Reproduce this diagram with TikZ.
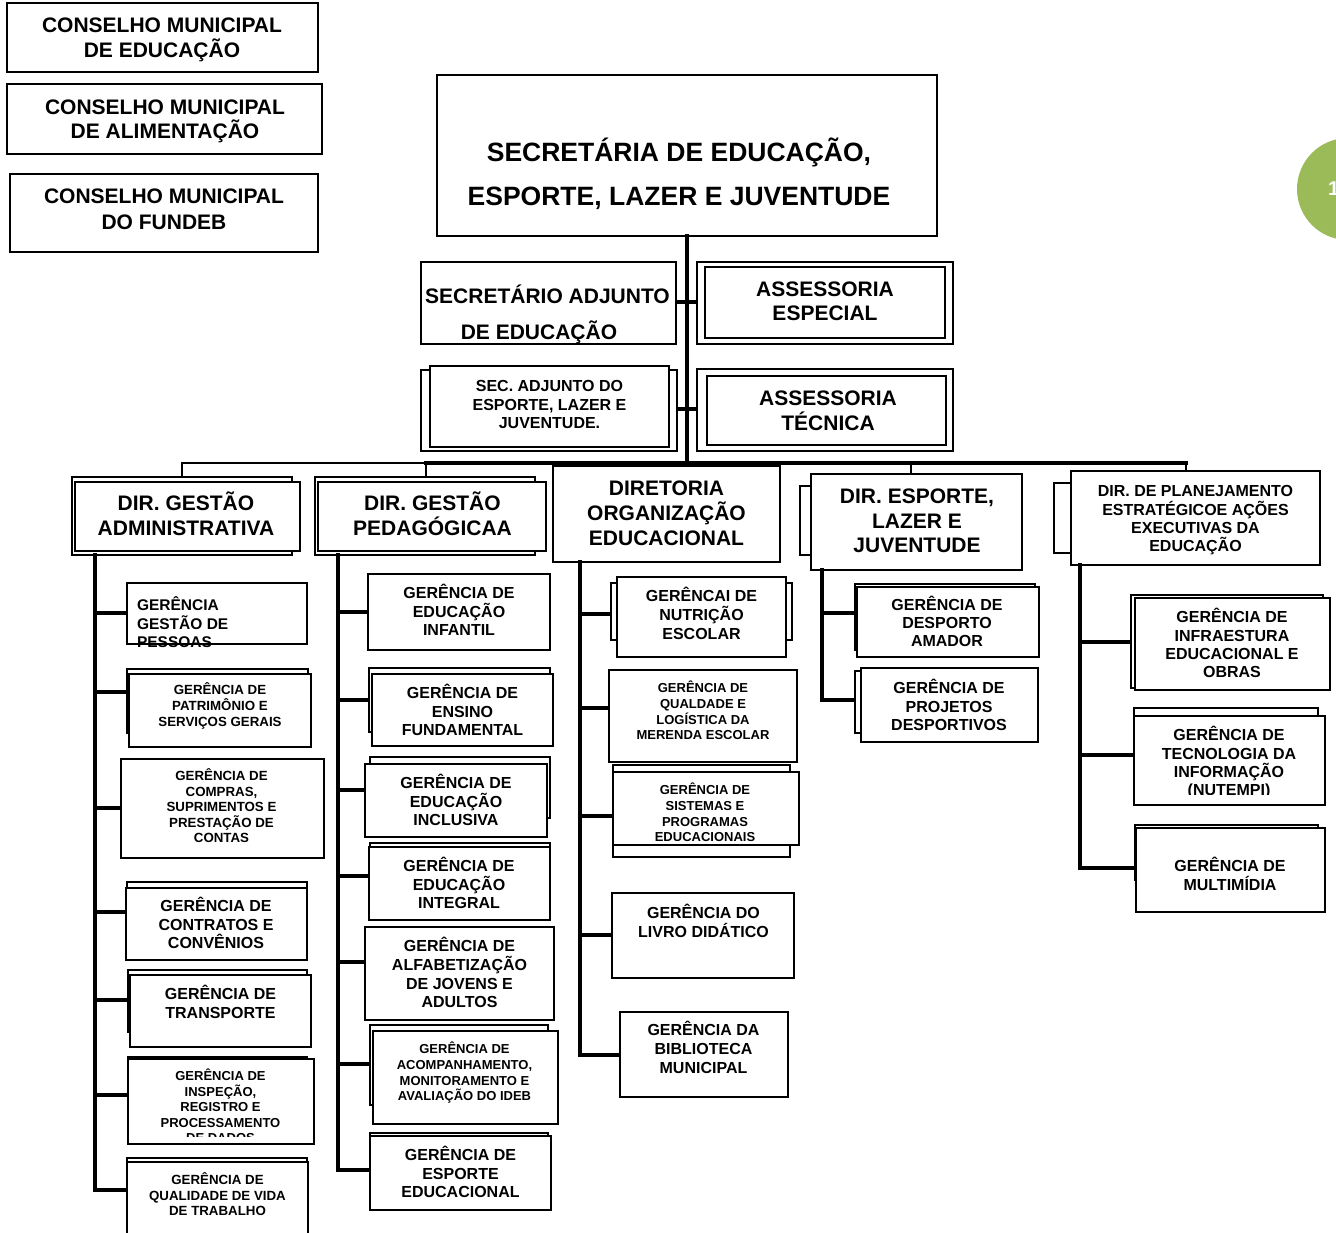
\documentclass[tikz,border=0pt]{standalone}
\usepackage{fontspec}
\setmainfont{Liberation Sans}
\newcommand\fsz[2]{\fontsize{#1}{#2}\selectfont\bfseries}
\newcommand\rbox[6][]{\pgfmathsetmacro\bw{#5-#3}\pgfmathsetmacro\bh{#6-#4}%
  \node[bx,#1,minimum width=\bw pt,minimum height=\bh pt,anchor=north west] (#2) at (#3,#4) {};}
% [opt]{name}{x}{first baseline}{size}{skip}{lines}{text}
\newcommand\tx[8][]{\pgfmathsetmacro\ly{#4+(#7-1)*#6}%
  \node[lbl,font={\fsz{#5}{#6}},#1] (#2) at (#3,\ly) {#8};}
\newcommand\cn[3]{\draw[conn,line cap=butt] (#1 |- 0,#2) -- (#3.west |- 0,#2);}
\begin{document}
\begin{tikzpicture}[x=1pt,y=-1pt,
  bx/.style={draw=black, line width=1.9pt, fill=white, inner sep=0pt, outer sep=0pt},
  thk/.style={line width=2.4pt},
  thn/.style={line width=1.4pt},
  conn/.style={line width=3.3pt, line cap=rect},
  lbl/.style={inner sep=0pt, outer sep=0pt, align=center, anchor=base},
]
\useasboundingbox (0,0) rectangle (1336,1233);
\fill[white] (0,0) rectangle (1336,1233);

% green page marker
\fill[fill={rgb,255:red,155;green,187;blue,89}] (1348,189) circle (51);
\node[anchor=base west, inner sep=0pt, text=white, font={\fsz{20}{24}}] (pg) at (1328,196) {1};

% councils
\rbox{c1}{7}{3}{318}{72}
\rbox{c2}{7}{84}{322}{154}
\rbox{c3}{10}{174}{318}{252}
\tx{tc1}{162}{32.5}{21}{25}{2}{CONSELHO MUNICIPAL\\DE EDUCAÇÃO}
\tx{tc2}{165}{114.5}{21}{24}{2}{CONSELHO MUNICIPAL\\DE ALIMENTAÇÃO}
\tx{tc3}{164}{203.5}{21}{26}{2}{CONSELHO MUNICIPAL\\DO FUNDEB}

% main
\rbox[thk]{main}{437}{75}{937}{236}
\tx{tmain}{679}{161.5}{26.5}{44}{2}{SECRETÁRIA DE EDUCAÇÃO,\\ESPORTE, LAZER E JUVENTUDE}

% trunk + side connectors
\coordinate (hub) at (687,463);
\draw[conn] (main.south) -- (hub);

\rbox{sa}{421}{262}{676}{344}
\rbox[thn]{aeO}{697}{262}{953}{344}
\rbox[thn]{aeI}{705}{267}{945}{338}
\rbox[thn]{seO}{421}{370}{677}{451}
\rbox[thn]{seI}{430}{366}{669}{447}
\rbox[thn]{atO}{697}{369}{953}{451}
\rbox[thn]{atI}{707}{376}{946}{445}
\draw[conn,line cap=butt] (sa.east |- 0,302) -- (aeO.west |- 0,302);
\draw[conn,line cap=butt] (seO.east |- 0,409) -- (atO.west |- 0,409);
\tx{tsa}{547.5}{303.5}{21}{36}{2}{SECRETÁRIO ADJUNTO\\DE EDUCAÇÃO\hspace*{17pt}}
\tx{tae}{825}{296.5}{21}{24}{2}{ASSESSORIA\\ESPECIAL}
\tx{tat}{828}{405.5}{21}{25}{2}{ASSESSORIA\\TÉCNICA}
\tx{tse}{549.5}{391.7}{16}{18.5}{3}{SEC. ADJUNTO DO\\ESPORTE, LAZER E\\JUVENTUDE.}

% directorates
\rbox{dAb}{72}{477}{292}{555}
\rbox{dA}{75}{482}{300}{551}
\rbox{dPb}{315}{477}{535}{555}
\rbox{dP}{318}{482}{546}{551}
\rbox[line width=2.3pt]{dO}{553}{466}{780}{562}
\rbox{dEb}{800}{486}{1012}{555}
\rbox{dE}{811}{474}{1022}{570}
\rbox{dLb}{1054}{483}{1300}{553}
\rbox{dL}{1071}{471}{1320}{565}
\tx{tdA}{186}{510.5}{21}{25}{2}{DIR. GESTÃO\\ADMINISTRATIVA}
\tx{tdP}{432.5}{510.5}{21}{25}{2}{DIR. GESTÃO\\PEDAGÓGICAA}
\tx{tdO}{666.5}{495.5}{21}{25}{3}{DIRETORIA\\ORGANIZAÇÃO\\EDUCACIONAL}
\tx{tdE}{917}{503.5}{21}{24.5}{3}{DIR. ESPORTE,\\LAZER E\\JUVENTUDE}
\tx{tdL}{1195.5}{496.7}{16}{18.3}{4}{DIR. DE PLANEJAMENTO\\ESTRATÉGICOE AÇÕES\\EXECUTIVAS DA\\EDUCAÇÃO}

% bus
\coordinate (busL) at (182,463);
\coordinate (busR) at (1186,463);
\draw[conn,line width=2.4pt] (busL) -- (426,463);
\draw[conn] (426,463) -- (busR);
\draw[conn,line width=2.4pt] (busL) -- (busL |- dAb.north);
\draw[conn,line width=2.4pt] (426,463 |- hub) -- (dPb.north -| 426,0);
\draw[conn,line width=2.4pt] (911,463 |- hub) -- (dE.north -| 911,0);
\draw[conn,line width=2.4pt] (busR) -- (busR |- dL.north);

% column trunks
\coordinate (tA) at (95,555);
\coordinate (tP) at (338,555);
\coordinate (tO) at (580,562);
\coordinate (tE) at (822,570);
\coordinate (tL) at (1080,565);
\draw[conn] (tA) -- (95,1190);
\draw[conn] (tP) -- (338,1170);
\draw[conn] (tO) -- (580,1055);
\draw[conn] (tE) -- (822,700);
\draw[conn] (tL) -- (1080,868);

% column 1
\rbox{a1}{127}{583}{307}{644}
\rbox{a2b}{127}{669}{308}{733}
\rbox{a2}{129}{674}{311}{747}
\rbox{a3}{121}{759}{324}{858}
\rbox{a4b}{127}{882}{307}{950}
\rbox{a4}{126}{888}{307}{960}
\rbox{a5b}{128}{970}{307}{1032}
\rbox{a5}{130}{975}{311}{1047}
\rbox{a6b}{128}{1057}{307}{1133}
\rbox{a6}{128}{1059}{314}{1144}
\rbox{a7b}{127}{1158}{307}{1240}
\rbox{a7}{127}{1162}{308}{1245}
\cn{tA}{613}{a1}
\cn{tA}{692}{a2b}
\cn{tA}{808}{a3}
\cn{tA}{912}{a4}
\cn{tA}{1000}{a5}
\cn{tA}{1095}{a6}
\cn{tA}{1190}{a7}
\begin{scope}
\clip (127,583) rectangle (307,648);
\tx[anchor=base west,align=left]{ta1}{137}{610.7}{15.5}{18.5}{3}{GERÊNCIA\\GESTÃO DE\\PESSOAS}
\end{scope}
\tx{ta2}{220}{694.7}{13.3}{16}{3}{GERÊNCIA DE\\PATRIMÔNIO E\\SERVIÇOS GERAIS}
\tx{ta3}{221.5}{780.7}{13.3}{15.5}{5}{GERÊNCIA DE\\COMPRAS,\\SUPRIMENTOS E\\PRESTAÇÃO DE\\CONTAS}
\tx{ta4}{216}{911.7}{16}{18.5}{3}{GERÊNCIA DE\\CONTRATOS E\\CONVÊNIOS}
\tx{ta5}{220.5}{999.7}{16}{19}{2}{GERÊNCIA DE\\TRANSPORTE}
\begin{scope}
\clip (128,1059) rectangle (314,1136);
\tx{ta6}{220.5}{1080.7}{13}{15.5}{5}{GERÊNCIA DE\\INSPEÇÃO,\\REGISTRO E\\PROCESSAMENTO\\DE DADOS}
\end{scope}
\tx{ta7}{217.5}{1184.7}{13.3}{15.5}{3}{GERÊNCIA DE\\QUALIDADE DE VIDA\\DE TRABALHO}

% column 2
\rbox{p1}{368}{574}{550}{650}
\rbox{p2b}{369}{668}{550}{732}
\rbox{p2}{372}{674}{553}{746}
\rbox{p3b}{370}{757}{550}{818}
\rbox{p3}{365}{764}{547}{837}
\rbox{p4b}{370}{843}{550}{900}
\rbox{p4}{369}{847}{550}{920}
\rbox{p5}{365}{927}{554}{1020}
\rbox{p6b}{370}{1025}{548}{1105}
\rbox{p6}{373}{1031}{558}{1124}
\rbox{p7b}{370}{1133}{548}{1200}
\rbox{p7}{370}{1136}{551}{1210}
\cn{tP}{612}{p1}
\cn{tP}{700}{p2b}
\cn{tP}{790}{p3}
\cn{tP}{876}{p4}
\cn{tP}{962}{p5}
\cn{tP}{1064}{p6b}
\cn{tP}{1170}{p7}
\tx{tp1}{459}{598.7}{16}{18.5}{3}{GERÊNCIA DE\\EDUCAÇÃO\\INFANTIL}
\tx{tp2}{462.5}{698.7}{16}{18.5}{3}{GERÊNCIA DE\\ENSINO\\FUNDAMENTAL}
\tx{tp3}{456}{788.7}{16}{18.5}{3}{GERÊNCIA DE\\EDUCAÇÃO\\INCLUSIVA}
\tx{tp4}{459}{871.7}{16}{18.5}{3}{GERÊNCIA DE\\EDUCAÇÃO\\INTEGRAL}
\tx{tp5}{459.5}{951.7}{16}{18.7}{4}{GERÊNCIA DE\\ALFABETIZAÇÃO\\DE JOVENS E\\ADULTOS}
\tx{tp6}{464.5}{1053.7}{13}{15.7}{4}{GERÊNCIA DE\\ACOMPANHAMENTO,\\MONITORAMENTO E\\AVALIAÇÃO DO IDEB}
\tx{tp7}{460.5}{1160.7}{16}{18.5}{3}{GERÊNCIA DE\\ESPORTE\\EDUCACIONAL}

% column 3
\rbox{o1b}{611}{583}{792}{640}
\rbox{o1}{617}{577}{786}{657}
\rbox{o2}{609}{670}{797}{762}
\rbox{o3b}{613}{765}{790}{857}
\rbox{o3}{613}{772}{799}{845}
\rbox{o4}{612}{893}{794}{978}
\rbox{o5}{620}{1012}{788}{1097}
\cn{tO}{614}{o1b}
\cn{tO}{708}{o2}
\cn{tO}{816}{o3}
\cn{tO}{935}{o4}
\cn{tO}{1055}{o5}
\tx{to1}{701.5}{601.7}{16}{19}{3}{GERÊNCAI DE\\NUTRIÇÃO\\ESCOLAR}
\tx{to2}{703}{692.7}{13}{15.7}{4}{GERÊNCIA DE\\QUALDADE E\\LOGÍSTICA DA\\MERENDA ESCOLAR}
\tx{to3}{705}{794.7}{13}{15.7}{4}{GERÊNCIA DE\\SISTEMAS E\\PROGRAMAS\\EDUCACIONAIS}
\tx{to4}{703.5}{918.7}{16}{19}{2}{GERÊNCIA DO\\LIVRO DIDÁTICO}
\tx{to5}{703.5}{1035.7}{16}{19}{3}{GERÊNCIA DA\\BIBLIOTECA\\MUNICIPAL}

% column 4
\rbox{e1b}{855}{584}{1035}{650}
\rbox{e1}{857}{587}{1039}{657}
\rbox{e2b}{855}{671}{1035}{733}
\rbox{e2}{861}{668}{1038}{742}
\cn{tE}{613}{e1b}
\cn{tE}{700}{e2b}
\begin{scope}
\clip (857,587) rectangle (1039,646);
\tx{te1}{947}{610.7}{16}{18}{3}{GERÊNCIA DE\\DESPORTO\\AMADOR}
\end{scope}
\tx{te2}{949}{693.7}{16}{18.5}{3}{GERÊNCIA DE\\PROJETOS\\DESPORTIVOS}

% column 5
\rbox{l1b}{1131}{595}{1323}{688}
\rbox{l1}{1135}{598}{1330}{690}
\rbox{l2b}{1134}{708}{1318}{760}
\rbox{l2}{1134}{716}{1325}{805}
\rbox{l3b}{1135}{825}{1318}{880}
\rbox{l3}{1136}{828}{1325}{912}
\cn{tL}{642}{l1b}
\cn{tL}{755}{l2}
\cn{tL}{868}{l3}
\tx{tl1}{1232}{622.7}{16}{18.3}{4}{GERÊNCIA DE\\INFRAESTURA\\EDUCACIONAL E\\OBRAS}
\begin{scope}
\clip (1134,716) rectangle (1325,794);
\tx{tl2}{1229}{740.7}{16}{18.3}{4}{GERÊNCIA DE\\TECNOLOGIA DA\\INFORMAÇÃO\\(NUTEMPI)}
\end{scope}
\tx{tl3}{1230}{871.7}{16}{19}{2}{GERÊNCIA DE\\MULTIMÍDIA}
\end{tikzpicture}
\end{document}
